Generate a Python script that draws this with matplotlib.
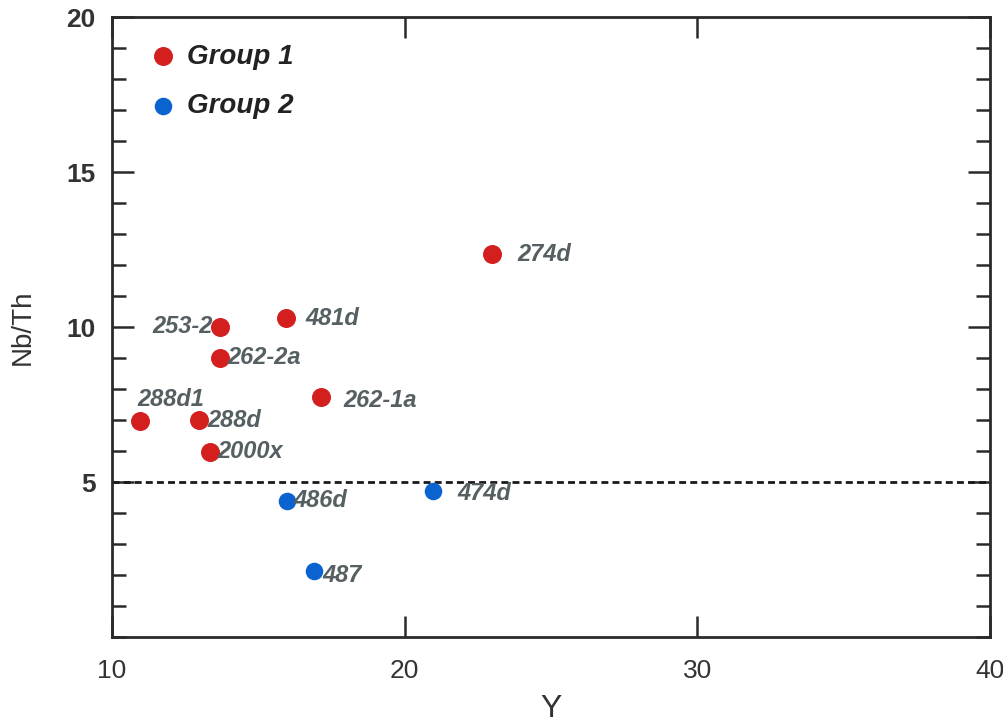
import matplotlib
matplotlib.use('Agg')
import matplotlib.pyplot as plt
from matplotlib.ticker import MultipleLocator, FixedLocator

plt.rcParams['font.family'] = ['Liberation Sans', 'DejaVu Sans']

# Group 1 samples
g1_names = ['274d', '253-2', '481d', '262-2a', '262-1a', '288d1', '288d', '2000x']
g1_y = [22.98, 13.69, 15.94, 13.69, 17.14, 10.96, 12.98, 13.35]
g1_nbth = [12.35, 10.01, 10.28, 9.01, 7.75, 6.98, 7.00, 5.98]

# Group 2 samples
g2_names = ['486d', '474d', '487']
g2_y = [15.99, 20.98, 16.91]
g2_nbth = [4.40, 4.72, 2.13]

RED = '#d41f1f'
BLUE = '#0b63cf'
LABEL_COLOR = '#565f61'

# label offsets in points (dx, dy, ha)
offsets = {
    '274d': (18, 0, 'left'),
    '253-2': (-5, 0, 'right'),
    '481d': (14, 0, 'left'),
    '262-2a': (5, 0, 'left'),
    '262-1a': (16, -3, 'left'),
    '288d1': (-2, 15, 'left'),
    '288d': (6, 0, 'left'),
    '2000x': (5, 0, 'left'),
    '486d': (4, 0, 'left'),
    '474d': (17, -2, 'left'),
    '487': (6, -3, 'left'),
}

fig = plt.figure(figsize=(10.04, 7.28), dpi=100)
ax = fig.add_axes([0.1116, 0.125, 0.8745, 0.8515])

ax.scatter(g1_y, g1_nbth, s=160, color=RED, zorder=3, label='Group 1')
ax.scatter(g2_y, g2_nbth, s=135, color=BLUE, zorder=3, label='Group 2')

for names, xs, ys in [(g1_names, g1_y, g1_nbth), (g2_names, g2_y, g2_nbth)]:
    for n, x, y in zip(names, xs, ys):
        dx, dy, ha = offsets[n]
        ax.annotate(n, (x, y), xytext=(dx, dy), textcoords='offset points',
                    ha=ha, va='center', fontsize=17, fontweight='bold',
                    fontstyle='italic', color=LABEL_COLOR, zorder=4)

# threshold line
ax.axhline(5, color='#1a1a1a', lw=2, ls=(0, (2.5, 1.5)), zorder=2)

ax.set_xlim(10, 40)
ax.set_ylim(0, 20)
ax.xaxis.set_major_locator(FixedLocator([10, 20, 30, 40]))
ax.yaxis.set_major_locator(FixedLocator([5, 10, 15, 20]))
ax.yaxis.set_minor_locator(MultipleLocator(1))

ax.tick_params(axis='both', which='both', direction='in', top=True, right=True,
               color='#2a2a2a', width=1.8)
ax.tick_params(axis='y', which='major', length=16, labelsize=19, pad=12)
ax.tick_params(axis='y', which='minor', length=10)
ax.tick_params(axis='x', which='major', length=15, labelsize=19, pad=16)
for lab in ax.get_yticklabels():
    lab.set_fontweight('bold')
    lab.set_color('#333333')
for lab in ax.get_xticklabels():
    lab.set_color('#333333')

for sp in ax.spines.values():
    sp.set_linewidth(2)
    sp.set_color('#2a2a2a')

ax.set_xlabel('Y', fontsize=23, color='#333333', labelpad=8)
ax.set_ylabel('Nb/Th', fontsize=20, color='#333333', labelpad=22)

leg = ax.legend(loc='upper left', frameon=False, fontsize=20, handletextpad=0.35,
                labelspacing=0.85, borderaxespad=0.0, markerscale=1.0,
                handlelength=1.0, bbox_to_anchor=(0.03, 0.975))
for t in leg.get_texts():
    t.set_fontweight('bold')
    t.set_fontstyle('italic')
    t.set_color('#222222')

fig.savefig('out.png', dpi=100, facecolor='white')
plt.close()
